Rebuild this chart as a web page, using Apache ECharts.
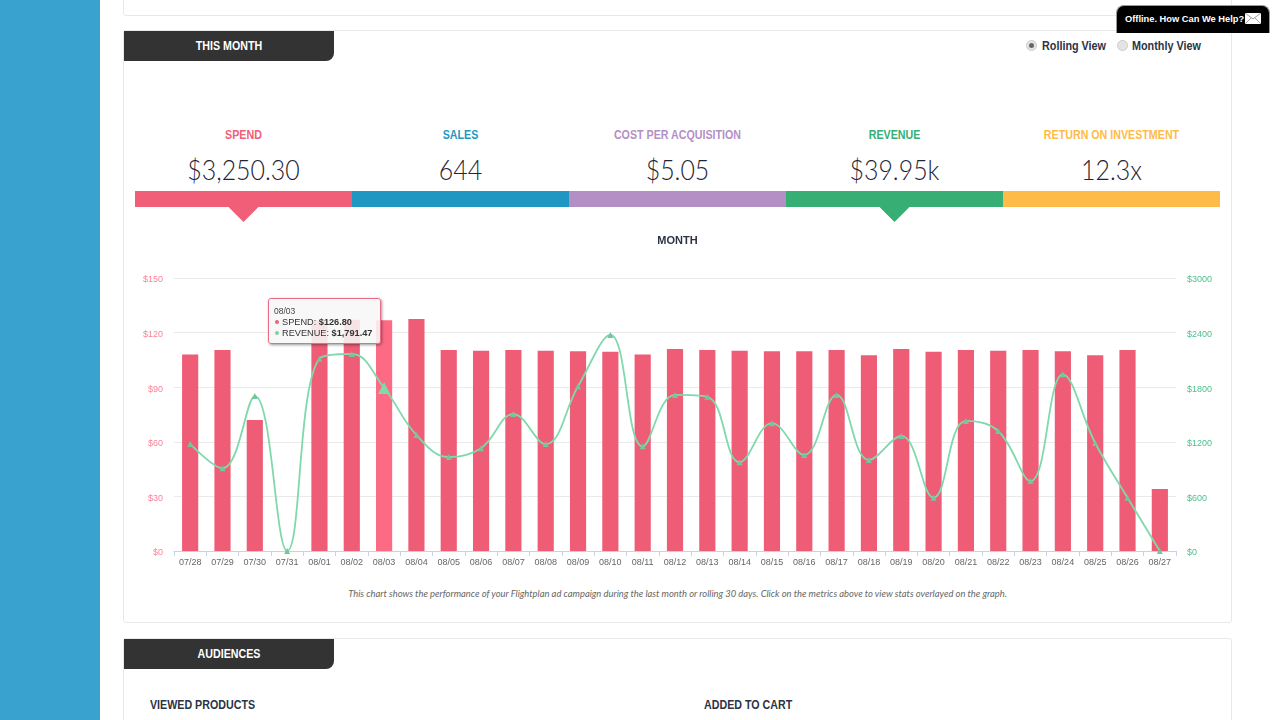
<!DOCTYPE html>
<html>
<head>
<meta charset="utf-8">
<title>This Month</title>
<script src="https://cdn.jsdelivr.net/npm/echarts@6/dist/echarts.min.js"></script>
<style>
  html, body { margin: 0; padding: 0; width: 1280px; height: 720px; overflow: hidden; background: #fff; font-family: "Liberation Sans", Arial, sans-serif; }
  .side { position: absolute; left: 0; top: 0; width: 100px; height: 720px; background: #3aa2cf; }
  .card { position: absolute; left: 123px; width: 1107px; background: #fff; border: 1px solid #e8e8e8; border-radius: 3px; box-sizing: content-box; }
  .tab { position: absolute; left: 124px; width: 210px; height: 30px; background: #333; border-radius: 0 0 8px 0; }
  .tab span { display: block; line-height: 30px; color: #fff; font-weight: bold; font-size: 12px; text-align: center; transform: scaleX(.89); }
  .label { position: absolute; width: 217px; top: 127.5px; text-align: center; font-weight: bold; font-size: 12px; line-height: 14px; transform: scaleX(.89); }
  .value { position: absolute; width: 217px; top: 151px; text-align: center; font-family: Lato, sans-serif; font-weight: 300; font-size: 28px; line-height: 36px; color: #1f2535; transform: scaleX(.89); }
  .band { position: absolute; top: 191px; height: 16px; width: 217px; }
  .arrow { position: absolute; top: 207px; width: 30px; height: 15px; clip-path: polygon(0 0, 100% 0, 50% 100%); }
  .radio { position: absolute; top: 40px; width: 9px; height: 9px; border-radius: 50%; background: #e4e4e4; border: 1px solid #ccc; }
  .radio i { position: absolute; left: 2px; top: 2px; width: 5px; height: 5px; border-radius: 50%; background: #666; }
  .radio-text { position: absolute; top: 39px; font-weight: bold; font-size: 12px; line-height: 15px; color: #2c3345; transform: scaleX(.9); transform-origin: left; }
  .chat { position: absolute; left: 1116px; top: 5px; width: 154px; height: 28px; background: #000; border: 1px solid #999; border-bottom: 0; border-radius: 8px 8px 0 0; box-sizing: border-box; color: #fff; font-weight: bold; font-size: 9.3px; line-height: 27px; padding-left: 8px; }
  .chat svg { position: absolute; left: 128px; top: 7px; }
  .note { position: absolute; left: 124px; width: 1107px; top: 587px; text-align: center; font-family: Lato, sans-serif; font-style: italic; font-size: 9.4px; line-height: 13px; color: #666; }
  .sub { position: absolute; top: 698px; font-weight: bold; font-size: 12px; line-height: 15px; color: #2c3345; transform: scaleX(.89); transform-origin: left; }
  #chart { position: absolute; left: 124px; top: 225px; width: 1107px; height: 355px; }
</style>
</head>
<body>
<div class="side"></div>
<div class="card" style="top:-10px;height:24px"></div>
<div class="card" style="top:30px;height:591px"></div>
<div class="card" style="top:638px;height:100px"></div>
<div class="tab" style="top:31px"><span>THIS MONTH</span></div>
<div class="tab" style="top:639px"><span>AUDIENCES</span></div>
<div class="radio" style="left:1026px"><i></i></div>
<div class="radio-text" style="left:1042px">Rolling View</div>
<div class="radio" style="left:1117px"></div>
<div class="radio-text" style="left:1132px">Monthly View</div>
<div class="chat">Offline. How Can We Help?
  <svg width="16" height="11" viewBox="0 0 16 11"><rect width="16" height="11" fill="#fff"/><path d="M0 0L8 6L16 0M0 11L6 5M16 11L10 5" fill="none" stroke="#888" stroke-width="0.8"/></svg>
</div>
<div id="metrics"></div>
<div id="chart"></div>
<div class="note">This chart shows the performance of your Flightplan ad campaign during the last month or rolling 30 days. Click on the metrics above to view stats overlayed on the graph.</div>
<div class="sub" style="left:150px">VIEWED PRODUCTS</div>
<div class="sub" style="left:704px">ADDED TO CART</div>

<script>
const metricNames = ['SPEND', 'SALES', 'COST PER ACQUISITION', 'REVENUE', 'RETURN ON INVESTMENT'];
const metricValues = ['$3,250.30', '644', '$5.05', '$39.95k', '12.3x'];
const metricColors = ['#f05e78', '#1f97c2', '#b48fc6', '#36ae74', '#ffbb48'];
const activeMetrics = [0, 3];

const days = ['07/28', '07/29', '07/30', '07/31', '08/01', '08/02', '08/03', '08/04', '08/05', '08/06', '08/07',
  '08/08', '08/09', '08/10', '08/11', '08/12', '08/13', '08/14', '08/15', '08/16', '08/17', '08/18', '08/19',
  '08/20', '08/21', '08/22', '08/23', '08/24', '08/25', '08/26', '08/27'];
const spend = [108, 110.5, 72, 0, 126.5, 127, 126.8, 127.5, 110.5, 110, 110.5,
  110, 109.8, 109.5, 108, 111, 110.5, 110, 109.8, 109.8, 110.5, 107.5, 111,
  109.5, 110.5, 110, 110.5, 109.8, 107.5, 110.5, 34];
const revenue = [1176, 908, 1703, 0, 2114, 2165, 1791.47, 1275, 1033, 1130, 1505,
  1175, 1810, 2374, 1150, 1715, 1695, 975, 1405, 1055, 1715, 1000, 1265,
  586, 1429, 1319, 769, 1941, 1187, 586, 0];
const hoverIndex = 6;

// header strip above the chart
let html = '';
metricNames.forEach(function (name, i) {
  let left = 135 + 217 * i;
  html += '<div class="label" style="left:' + left + 'px;color:' + metricColors[i] + '">' + name + '</div>';
  html += '<div class="value" style="left:' + left + 'px">' + metricValues[i] + '</div>';
  html += '<div class="band" style="left:' + left + 'px;background:' + metricColors[i] + '"></div>';
  if (activeMetrics.indexOf(i) >= 0) {
    html += '<div class="arrow" style="left:' + (left + 93.5) + 'px;background:' + metricColors[i] + '"></div>';
  }
});
document.getElementById('metrics').innerHTML = html;

const chart = echarts.init(document.getElementById('chart'));
const axisFont = 'Liberation Sans';

chart.setOption({
  animation: false,
  textStyle: { fontFamily: axisFont },
  title: {
    text: 'MONTH', left: 'center', top: 5,
    textStyle: { fontSize: 11, fontWeight: 'bold', color: '#2c3345', fontFamily: axisFont }
  },
  grid: { left: 50, right: 55, top: 53, bottom: 29 },
  tooltip: {
    trigger: 'axis',
    axisPointer: { type: 'none' },
    transitionDuration: 0,
    position: function () { return [144, 73]; },
    backgroundColor: 'rgba(247,247,247,0.88)',
    borderColor: '#ea6c84',
    borderWidth: 1,
    padding: [7, 8, 3, 5],
    extraCssText: 'border-radius:3px;box-shadow:1px 1px 3px rgba(0,0,0,.4);width:113px;height:46px;box-sizing:border-box;',
    formatter: function (params) {
      let dot = function (c) {
        return '<span style="display:inline-block;width:4px;height:4px;border-radius:50%;background:' + c + ';margin:0 3px 1px 1px;vertical-align:middle"></span>';
      };
      let money = function (v) {
        return '$' + v.toLocaleString('en-US', { minimumFractionDigits: 2, maximumFractionDigits: 2 });
      };
      return '<div style="font:8.5px/11px Liberation Sans;color:#444">' + params[0].axisValue + '</div>'
        + '<div style="font:9.2px/11px Liberation Sans;color:#333;white-space:nowrap">' + dot('#f05e78') + 'SPEND: <b>' + money(params[0].value) + '</b></div>'
        + '<div style="font:9.2px/11px Liberation Sans;color:#333;white-space:nowrap">' + dot('#80d0a6') + 'REVENUE: <b>' + money(params[1].value) + '</b></div>';
    }
  },
  xAxis: {
    type: 'category',
    data: days,
    boundaryGap: true,
    axisLine: { lineStyle: { color: '#c5d2ee' } },
    axisTick: { show: true, length: 5, lineStyle: { color: '#c5d2ee' } },
    axisLabel: { interval: 0, fontSize: 9, color: '#666', margin: 7 }
  },
  yAxis: [
    {
      type: 'value', min: 0, max: 150, interval: 30,
      axisLine: { show: false }, axisTick: { show: false },
      axisLabel: { formatter: function (v) { return '$' + v; }, fontSize: 9, color: '#ff7f97', margin: 11, verticalAlign: 'top', lineHeight: 4 },
      splitLine: { lineStyle: { color: '#eaeaea' } }
    },
    {
      type: 'value', min: 0, max: 3000, interval: 600,
      axisLine: { show: false }, axisTick: { show: false },
      axisLabel: { formatter: function (v) { return '$' + v; }, fontSize: 9, color: '#4fbf8c', margin: 11, verticalAlign: 'top', lineHeight: 4 },
      splitLine: { show: false }
    }
  ],
  series: [
    {
      name: 'SPEND', type: 'bar', yAxisIndex: 0, data: spend,
      barWidth: '50%',
      itemStyle: { color: '#ee5c75' },
      emphasis: { itemStyle: { color: '#fd6a84' } }
    },
    {
      name: 'REVENUE', type: 'line', yAxisIndex: 1, data: revenue,
      smooth: 0.4,
      symbol: 'triangle', symbolSize: 6, showSymbol: true,
      lineStyle: { color: '#74c69c', width: 1.8 },
      itemStyle: { color: '#74c69c' },
      emphasis: { scale: 2, lineStyle: { width: 1.8 } }
    }
  ]
});

chart.dispatchAction({ type: 'showTip', seriesIndex: 0, dataIndex: hoverIndex });
chart.dispatchAction({ type: 'highlight', seriesIndex: [0, 1], dataIndex: hoverIndex });
</script>
</body>
</html>
